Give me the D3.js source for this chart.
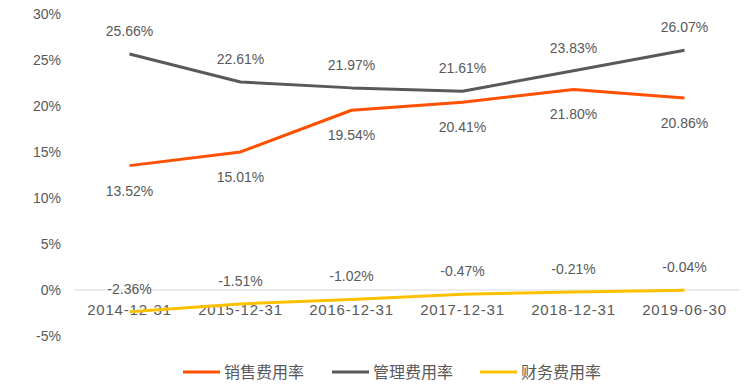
<!DOCTYPE html>
<html>
<head>
<meta charset="utf-8">
<script src="https://cdn.jsdelivr.net/npm/d3@7"></script>
<style>
  body { margin: 0; background: #fff; }
  svg text { font-family: "Liberation Sans", Arial, "Noto Sans CJK SC", sans-serif; fill: #595959; }
</style>
</head>
<body>
<div id="chart"></div>
<script>
// chart data
var categories = ["2014-12-31", "2015-12-31", "2016-12-31", "2017-12-31", "2018-12-31", "2019-06-30"];
var salesRate = [13.52, 15.01, 19.54, 20.41, 21.80, 20.86];
var adminRate = [25.66, 22.61, 21.97, 21.61, 23.83, 26.07];
var financeRate = [-2.36, -1.51, -1.02, -0.47, -0.21, -0.04];
var yTicks = [-5, 0, 5, 10, 15, 20, 25, 30];

var series = [
    { name: "销售费用率", values: salesRate, color: "#FF5000", labelPos: "below" },
    { name: "管理费用率", values: adminRate, color: "#595959", labelPos: "above" },
    { name: "财务费用率", values: financeRate, color: "#FFC000", labelPos: "above" }
];

var width = 750, height = 391;

var svg = d3.select("#chart").append("svg")
    .attr("width", width)
    .attr("height", height);

var xScale = d3.scaleBand().domain(categories).range([74, 740]);
var yScale = d3.scaleLinear().domain([-5, 30]).range([336, 14]);

function cx(c) { return xScale(c) + xScale.bandwidth() / 2; }

// y axis labels
svg.append("g")
    .selectAll("text")
    .data(yTicks)
    .enter().append("text")
    .attr("x", 61)
    .attr("y", d => yScale(d))
    .attr("dy", "0.35em")
    .attr("text-anchor", "end")
    .attr("font-size", 14)
    .text(d => d + "%");

// zero line
svg.append("line")
    .attr("x1", 74).attr("x2", 740)
    .attr("y1", yScale(0)).attr("y2", yScale(0))
    .attr("stroke", "#d9d9d9")
    .attr("stroke-width", 1);

// x labels
svg.append("g")
    .selectAll("text")
    .data(categories)
    .enter().append("text")
    .attr("x", d => cx(d))
    .attr("y", yScale(0) + 20)
    .attr("dy", "0.35em")
    .attr("text-anchor", "middle")
    .attr("font-size", 15)
    .attr("letter-spacing", 0.8)
    .text(d => d);

var line = d3.line()
    .x(d => cx(d.c))
    .y(d => yScale(d.v));

series.forEach(function(s) {
    var pts = categories.map((c, i) => ({ c: c, v: s.values[i] }));
    svg.append("path")
        .datum(pts)
        .attr("d", line)
        .attr("fill", "none")
        .attr("stroke", s.color)
        .attr("stroke-width", 3)
        .attr("stroke-linejoin", "round");

    svg.append("g")
        .selectAll("text")
        .data(pts)
        .enter().append("text")
        .attr("x", d => cx(d.c))
        .attr("y", d => yScale(d.v) + (s.labelPos === "above" ? -23 : 25))
        .attr("dy", "0.35em")
        .attr("text-anchor", "middle")
        .attr("font-size", 14)
        .text(d => d.v.toFixed(2) + "%");
});

// legend
var legendX = [183, 332, 480];
var legend = svg.append("g");
series.forEach(function(s, i) {
    legend.append("line")
        .attr("x1", legendX[i]).attr("x2", legendX[i] + 37)
        .attr("y1", 372).attr("y2", 372)
        .attr("stroke", s.color)
        .attr("stroke-width", 3);
    legend.append("text")
        .attr("x", legendX[i] + 41)
        .attr("y", 372)
        .attr("dy", "0.35em")
        .attr("font-size", 16)
        .text(s.name);
});
</script>
</body>
</html>
